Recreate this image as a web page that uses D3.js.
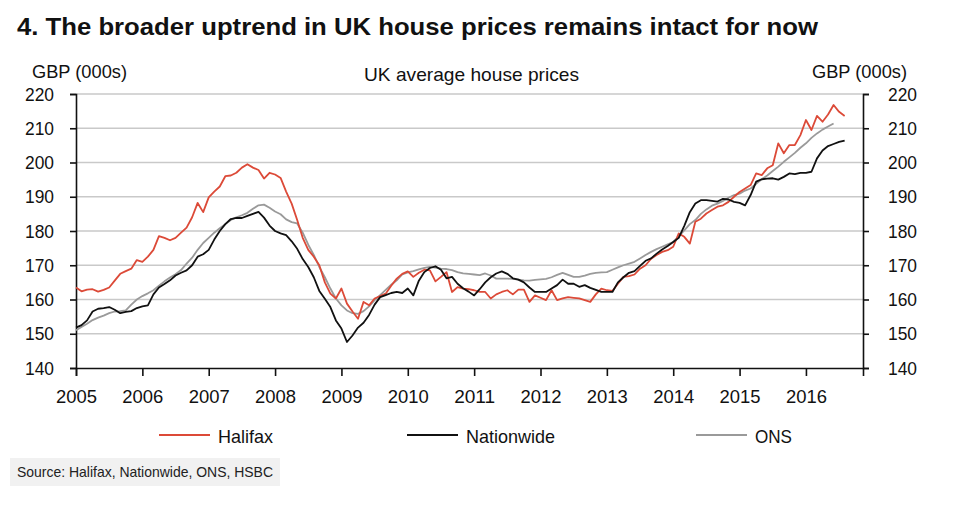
<!DOCTYPE html>
<html><head><meta charset="utf-8">
<script src="https://cdn.jsdelivr.net/npm/d3@7"></script>
<style>
body{margin:0;background:#fff;}
text{font-family:"Liberation Sans",Arial,Helvetica,sans-serif;}
</style></head>
<body>
<svg id="chart" width="960" height="514"></svg>
<script>
const title = "4. The broader uptrend in UK house prices remains intact for now";
const subtitle = "UK average house prices";
const unitLabel = "GBP (000s)";
const source = "Source: Halifax, Nationwide, ONS, HSBC";
const startYear = 2005;
const yearLabels = ["2005","2006","2007","2008","2009","2010","2011","2012","2013","2014","2015","2016"];
const yTicks = [140,150,160,170,180,190,200,210,220];
const seriesNames = ["Halifax","Nationwide","ONS"];
// monthly values, Jan 2005 onwards, GBP thousands
const halifax = [163.5,162.4,162.9,163.0,162.3,162.8,163.5,165.5,167.5,168.3,169.0,171.5,
171.0,172.5,174.5,178.5,178.0,177.3,178.0,179.5,181.0,184.0,188.2,185.5,
189.8,191.5,193.0,196.0,196.2,197.0,198.5,199.5,198.5,197.8,195.3,197.0,
196.5,195.5,191.5,188.0,183.2,178.0,174.5,172.5,170.0,165.0,161.7,160.3,
163.2,158.8,156.5,154.4,159.3,158.3,160.3,161.0,161.7,164.0,166.1,167.5,
168.2,166.6,167.8,168.7,168.5,165.3,166.6,168.0,162.2,163.6,163.2,163.0,
162.7,162.2,162.2,160.3,161.5,162.2,162.7,161.5,162.9,162.9,159.3,161.2,
160.5,159.8,162.7,159.8,160.3,160.7,160.5,160.3,159.8,159.3,161.5,163.2,
162.7,162.5,164.6,166.6,166.8,167.3,169.0,170.0,171.9,173.0,173.9,174.4,
175.4,179.3,178.3,176.3,182.7,183.6,185.1,186.1,187.1,187.5,188.5,190.0,
191.4,192.4,193.4,196.8,196.3,198.3,199.2,205.6,202.7,205.1,205.1,208.0,
212.4,209.5,213.6,211.9,214.0,216.8,214.8,213.6];
const nationwide = [151.8,152.5,153.9,156.5,157.3,157.5,157.8,157.0,156.0,156.4,156.6,157.5,
158.0,158.3,161.5,163.5,164.5,165.6,167.0,167.8,168.5,170.0,172.5,173.2,
174.5,177.5,180.0,182.0,183.5,183.8,183.8,184.4,185.0,185.6,183.9,181.6,
180.0,179.3,178.8,177.0,174.8,171.8,169.5,166.5,162.5,160.2,157.8,153.9,
151.5,147.6,149.5,151.8,153.2,155.5,158.5,160.7,161.3,161.9,162.2,161.9,
163.2,161.2,165.5,168.0,169.2,169.7,168.7,166.2,166.6,164.6,163.3,162.3,
161.2,163.0,165.0,166.5,167.6,168.2,167.5,166.2,165.8,165.0,163.5,162.2,
162.2,162.2,163.2,164.2,165.8,164.6,164.6,163.7,164.2,163.4,162.8,162.2,
162.2,162.2,165.0,166.5,167.8,168.3,169.8,171.3,172.0,173.4,174.6,175.6,
176.8,178.0,181.5,185.5,188.0,189.0,189.0,188.8,188.6,189.4,189.2,188.5,
188.2,187.5,190.5,194.4,195.1,195.3,195.4,195.0,195.8,196.8,196.6,197.0,
197.0,197.3,201.2,203.5,204.8,205.4,206.0,206.4];
const ons = [151.0,152.0,152.9,154.0,154.7,155.3,156.0,156.5,156.6,156.8,158.5,160.0,
161.0,161.8,162.7,164.0,165.3,166.4,167.4,168.6,170.5,172.2,174.5,176.5,
178.0,179.5,180.8,182.0,183.2,184.0,184.6,185.3,186.5,187.5,187.7,186.8,
185.7,184.9,183.4,182.6,182.2,179.5,176.0,173.0,169.5,166.5,163.2,160.3,
158.3,156.8,156.0,155.8,156.6,158.0,159.8,161.3,162.8,164.3,165.6,167.3,
167.9,168.3,168.8,169.2,169.5,169.3,169.0,168.9,168.6,168.0,167.6,167.5,
167.3,167.1,167.6,167.0,166.1,166.1,166.1,166.0,165.8,165.6,165.5,165.7,
165.9,166.0,166.5,167.2,167.8,167.2,166.6,166.6,167.0,167.5,167.8,167.9,
168.0,168.7,169.4,170.0,170.5,171.0,172.0,173.0,173.9,174.7,175.4,176.1,
176.8,178.5,180.2,182.0,183.2,185.0,186.3,187.4,188.0,188.8,189.7,190.5,
190.9,191.8,192.4,193.8,195.1,196.2,197.5,198.8,200.2,201.5,202.8,204.3,
205.6,207.2,208.5,209.6,210.5,211.4];
const colors = ["#dc4a38","#111111","#9a9a9a"];

const svg = d3.select("#chart");
const L = 76, R = 863, T = 94, B = 368;
const x = d3.scaleLinear().domain([startYear, startYear + 11.86]).range([L, R]);
const y = d3.scaleLinear().domain([140, 220]).range([B, T]);

function fit(sel, w){ sel.attr("textLength", w).attr("lengthAdjust","spacingAndGlyphs"); }

// title
svg.append("text").attr("x",17).attr("y",35).attr("font-size",24).attr("font-weight","bold")
  .attr("fill","#111").text(title).call(fit,801);
// unit labels
svg.append("text").attr("x",32).attr("y",78).attr("font-size",19).attr("fill","#111").text(unitLabel).call(fit,95);
svg.append("text").attr("x",812).attr("y",78).attr("font-size",19).attr("fill","#111").text(unitLabel).call(fit,95);
svg.append("text").attr("x",364).attr("y",81).attr("font-size",19).attr("fill","#111").text(subtitle).call(fit,215);

// gridlines
svg.append("g").selectAll("line").data(yTicks.filter(v=>v>140)).join("line")
  .attr("x1",L).attr("x2",R).attr("y1",d=>y(d)).attr("y2",d=>y(d))
  .attr("stroke","#c9c9c9").attr("stroke-width",1.5);

// axes
const yl = svg.append("g").attr("transform",`translate(${L},0)`)
  .call(d3.axisLeft(y).tickValues(yTicks).tickSize(6).tickPadding(16).tickFormat(d3.format("d")));
const yr = svg.append("g").attr("transform",`translate(${R},0)`)
  .call(d3.axisRight(y).tickValues(yTicks).tickSize(6).tickPadding(19).tickFormat(d3.format("d")));
const xTickVals = yearLabels.map(s=>+s);
const xa = svg.append("g").attr("transform",`translate(0,${B})`)
  .call(d3.axisBottom(x).tickValues(xTickVals).tickSize(8).tickPadding(14).tickFormat(d3.format("d")));
[yl,yr,xa].forEach(g=>{
  g.select(".domain").attr("stroke","#111").attr("stroke-width",1.6);
  g.selectAll(".tick line").attr("stroke","#111").attr("stroke-width",1.6);
  g.selectAll(".tick text").attr("font-size",19).attr("fill","#111")
   .attr("font-family",'"Liberation Sans",Arial,sans-serif');
});
yl.selectAll(".tick text").call(fit,29);
yr.selectAll(".tick text").call(fit,29);
xa.selectAll(".tick text").call(fit,41);

// lines
const allSeries = [halifax, nationwide, ons];
const line = d3.line().x((d,i)=>x(startYear + i/12)).y(d=>y(d));
const order = [2,0,1];
order.forEach(k=>{
  svg.append("path").datum(allSeries[k]).attr("d",line).attr("fill","none")
    .attr("stroke",colors[k]).attr("stroke-width",1.8).attr("stroke-linejoin","round");
});

// legend
const legX = [159,407,696];
const legW = [55,89,37];
seriesNames.forEach((n,i)=>{
  svg.append("line").attr("x1",legX[i]).attr("x2",legX[i]+51).attr("y1",435).attr("y2",435)
    .attr("stroke",colors[i]).attr("stroke-width",2);
  svg.append("text").attr("x",legX[i]+59).attr("y",443).attr("font-size",19).attr("fill","#111")
    .text(n).call(fit,legW[i]);
});

// source
svg.append("rect").attr("x",10).attr("y",458).attr("width",270).attr("height",28).attr("fill","#f1f1f1");
svg.append("text").attr("x",17).attr("y",477).attr("font-size",14.5).attr("fill","#222").text(source).call(fit,256);
</script>
</body></html>
